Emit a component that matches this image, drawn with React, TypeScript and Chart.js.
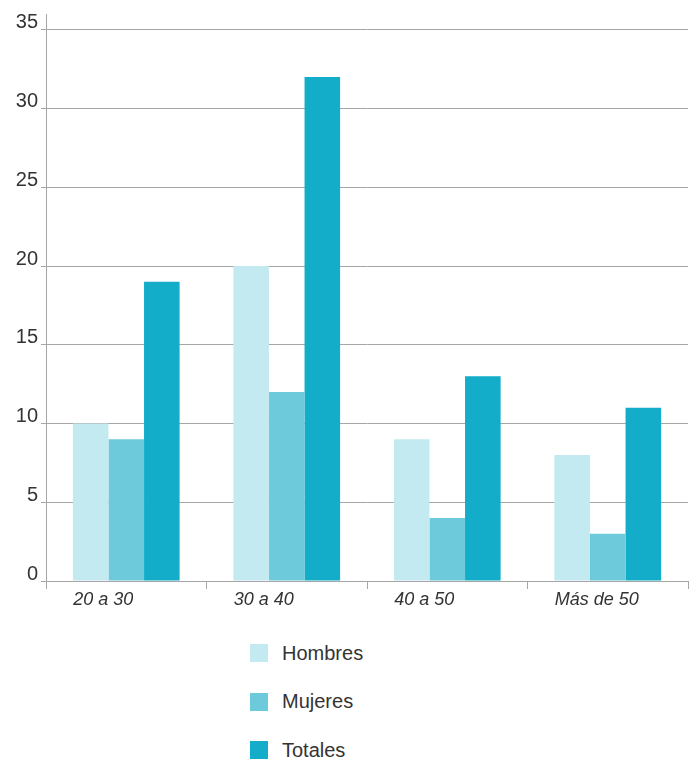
import React, { useEffect, useRef } from "react";
import { Chart, registerables } from "chart.js";

Chart.register(...registerables);

const categories = ["20 a 30", "30 a 40", "40 a 50", "Más de 50"];
const seriesNames = ["Hombres", "Mujeres", "Totales"];
const hombres = [10, 20, 9, 8];
const mujeres = [9, 12, 4, 3];
const totales = [19, 32, 13, 11];
const seriesColors = ["#c3eaf0", "#6ccadb", "#13adca"];
const yTicks = [0, 5, 10, 15, 20, 25, 30, 35];
const yAxisMax = 36;

const FONT = "'Liberation Sans', Arial, sans-serif";
const GRID = "#a6a6a6";
const TEXT = "#333333";

export default function App() {
  const ref = useRef<HTMLCanvasElement | null>(null);

  useEffect(() => {
    if (!ref.current) return;
    const values = [hombres, mujeres, totales];
    const chart = new Chart(ref.current, {
      type: "bar",
      data: {
        labels: categories,
        datasets: seriesNames.map((name, i) => ({
          label: name,
          data: values[i],
          backgroundColor: seriesColors[i],
          borderWidth: 0,
          categoryPercentage: 0.665,
          barPercentage: 1.0,
        })),
      },
      options: {
        animation: false,
        responsive: false,
        maintainAspectRatio: false,
        layout: { padding: { top: 6, right: 2, left: 0, bottom: 0 } },
        plugins: {
          legend: { display: false },
          tooltip: { enabled: false },
        },
        scales: {
          x: {
            grid: {
              display: true,
              drawOnChartArea: false,
              drawTicks: true,
              tickLength: 8,
              color: GRID,
              lineWidth: 1,
              offset: true,
            },
            border: { display: true, color: GRID, width: 1 },
            ticks: {
              align: "start",
              labelOffset: -53,
              padding: 0,
              color: TEXT,
              font: { family: FONT, size: 18, style: "italic" },
              maxRotation: 0,
              autoSkip: false,
            },
            afterFit: (scale: any) => {
              scale.height = 35;
              scale.paddingLeft = 0;
              scale.paddingRight = 0;
            },
          },
          y: {
            min: 0,
            max: yAxisMax,
            grid: {
              display: true,
              drawOnChartArea: true,
              drawTicks: true,
              tickLength: 5,
              color: GRID,
              lineWidth: 1,
            },
            border: { display: true, color: GRID, width: 1 },
            ticks: {
              padding: 3,
              labelOffset: -7,
              color: TEXT,
              font: { family: FONT, size: 20 },
            },
            afterBuildTicks: (scale: any) => {
              scale.ticks = yTicks.map((v) => ({ value: v }));
            },
            afterFit: (scale: any) => {
              scale.width = 38;
              scale.paddingTop = 0;
              scale.paddingBottom = 0;
            },
          },
        },
      },
    });
    return () => chart.destroy();
  }, []);

  return (
    <div style={{ width: 682, fontFamily: FONT }}>
      <canvas ref={ref} width={682} height={608} style={{ display: "block", width: 682, height: 608 }} />
      <div style={{ marginLeft: 242, paddingTop: 13 }}>
        {seriesNames.map((name, i) => (
          <div key={name} style={{ display: "flex", alignItems: "center", height: 48.5 }}>
            <span style={{ display: "inline-block", width: 18, height: 18, background: seriesColors[i], marginRight: 14 }} />
            <span style={{ fontSize: 20, color: TEXT }}>{name}</span>
          </div>
        ))}
      </div>
    </div>
  );
}
